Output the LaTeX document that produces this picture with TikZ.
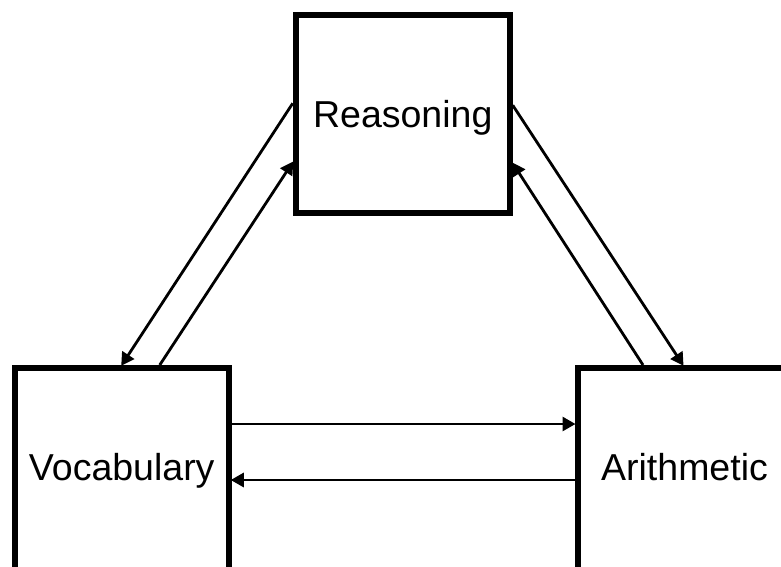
\documentclass[tikz,border=0pt]{standalone}
\usepackage{fontspec}
\setmainfont{Liberation Sans}
\usetikzlibrary{arrows.meta}
\begin{document}
\begin{tikzpicture}[x=1pt,y=-1pt,
  factor/.style={draw=black, line width=6pt, fill=white, rectangle,
    minimum width=214pt, minimum height=198pt, inner sep=0pt,
    text height=27pt, text depth=0pt,
    font=\fontsize{37.5pt}{40pt}\selectfont},
  lowfactor/.style={factor, minimum height=204pt, text depth=6pt},
  link/.style={draw=black, line width=2.8pt,
    -{Triangle[length=13pt,width=14pt]}, shorten >=-1pt}]
\useasboundingbox (0,0) rectangle (781,566);

% the three factor boxes
\node[factor] (R) at (402.75,114.25) {Reasoning};
\node[lowfactor] (V) at (121.75,470) {Vocabulary};
\node[lowfactor] (A) at (684.5,470) {Arithmetic};

% Reasoning <-> Vocabulary
\draw[link] ([yshift=11pt]R.west) -- (V.north);
\draw[link] ([xshift=38pt]V.north) -- ([yshift=-48pt]R.west);

% Reasoning <-> Arithmetic
\draw[link] ([yshift=9pt]R.east) -- ([xshift=-1.5pt]A.north);
\draw[link] ([xshift=-41.5pt]A.north) -- ([yshift=-49pt]R.east);

% Vocabulary <-> Arithmetic
\draw[link] ([yshift=46pt]V.east) -- ([yshift=46pt]A.west);
\draw[link] ([yshift=-10pt]A.west) -- ([yshift=-10pt]V.east);
\end{tikzpicture}
\end{document}
